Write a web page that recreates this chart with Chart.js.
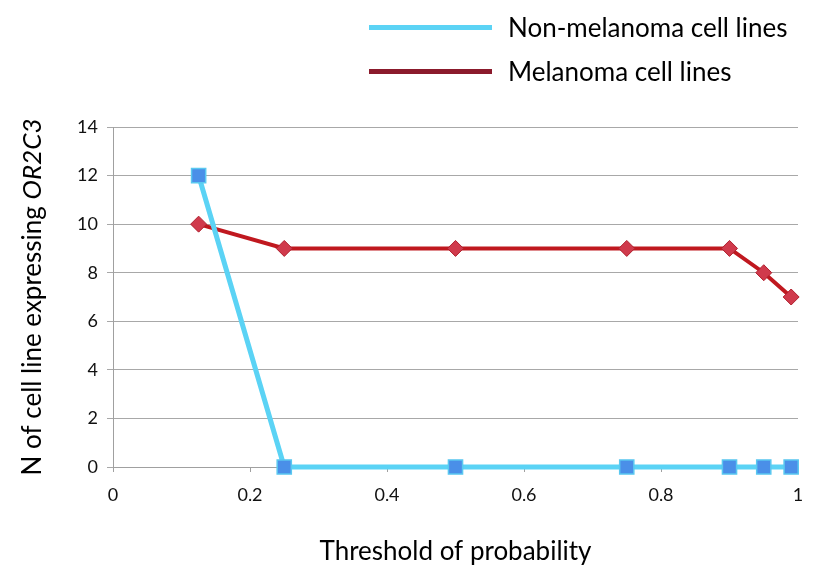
<!DOCTYPE html>
<html>
<head>
<meta charset="utf-8">
<script src="https://cdn.jsdelivr.net/npm/chart.js@4"></script>
<style>
  html, body { margin: 0; padding: 0; background: #fff; }
  #wrap { position: relative; width: 825px; height: 586px; }
  #legend { position: absolute; left: 369px; top: 5px; font-family: Lato, sans-serif; font-size: 26px; color: #000; }
  .item { display: flex; align-items: center; height: 44px; }
  .swatch { width: 123px; height: 5px; margin-right: 16px; }
</style>
</head>
<body>
<div id="wrap">
  <canvas id="chart" width="825" height="586"></canvas>
  <div id="legend"></div>
</div>
<script>
// threshold of probability (x values)
const thresholds = [0.125, 0.25, 0.5, 0.75, 0.9, 0.95, 0.99];
const nonMelanoma = [12, 0, 0, 0, 0, 0, 0];
const melanoma = [10, 9, 9, 9, 9, 8, 7];
const seriesNames = ['Non-melanoma cell lines', 'Melanoma cell lines'];
const legendColors = ['#5bd3f5', '#8b1a2c'];
const xTicks = [0, 0.2, 0.4, 0.6, 0.8, 1];

function toPoints(vals) {
    return vals.map((v, i) => ({ x: thresholds[i], y: v }));
}

// rotated y title with italic gene name
const yTitlePlugin = {
    id: 'yTitle',
    afterDraw(chart) {
        const ctx = chart.ctx;
        const area = chart.chartArea;
        const part1 = 'N of cell line expressing ';
        const part2 = 'OR2C3';
        ctx.save();
        ctx.fillStyle = '#000';
        ctx.textBaseline = 'middle';
        ctx.font = '26px Lato, sans-serif';
        const w1 = ctx.measureText(part1).width;
        ctx.font = 'italic 26px Lato, sans-serif';
        const w2 = ctx.measureText(part2).width;
        ctx.translate(33, (area.top + area.bottom) / 2);
        ctx.rotate(-Math.PI / 2);
        let x = -(w1 + w2) / 2;
        ctx.textAlign = 'left';
        ctx.font = '26px Lato, sans-serif';
        ctx.fillText(part1, x, 0);
        ctx.font = 'italic 26px Lato, sans-serif';
        ctx.fillText(part2, x + w1, 0);
        ctx.restore();
    }
};

const ctx = document.getElementById('chart').getContext('2d');
const chart = new Chart(ctx, {
    type: 'line',
    data: {
        datasets: [
            {
                label: seriesNames[0],
                data: toPoints(nonMelanoma),
                borderColor: '#5bd3f5',
                borderWidth: 5,
                pointStyle: 'rect',
                pointRadius: 10,
                pointBackgroundColor: '#4a8fe8',
                pointBorderColor: '#5ac8f0',
                pointBorderWidth: 1.5,
                tension: 0,
                clip: false
            },
            {
                label: seriesNames[1],
                data: toPoints(melanoma),
                borderColor: '#c0181f',
                borderWidth: 4,
                pointStyle: 'rectRot',
                pointRadius: 8,
                pointBackgroundColor: '#d03a4c',
                pointBorderColor: '#b0202e',
                pointBorderWidth: 1,
                tension: 0,
                clip: false
            }
        ]
    },
    options: {
        responsive: false,
        animation: false,
        layout: { padding: { top: 127, right: 27, left: 0, bottom: 0 } },
        plugins: {
            legend: { display: false },
            tooltip: { enabled: false }
        },
        scales: {
            x: {
                type: 'linear',
                min: 0,
                max: 1,
                afterFit(scale) { scale.height = 119; },
                afterBuildTicks(scale) { scale.ticks = xTicks.map(v => ({ value: v })); },
                grid: { drawOnChartArea: false, drawTicks: true, tickLength: 5, color: '#a0a0a0' },
                border: { display: true, color: '#a0a0a0' },
                ticks: {
                    color: '#111',
                    font: { family: 'Lato, sans-serif', size: 18 },
                    padding: 12,
                    maxRotation: 0,
                    callback: v => String(v)
                },
                title: {
                    display: true,
                    text: 'Threshold of probability',
                    color: '#000',
                    font: { family: 'Lato, sans-serif', size: 26 },
                    padding: { top: 0, bottom: 19 }
                }
            },
            y: {
                min: 0,
                max: 14,
                afterFit(scale) { scale.width = 113; },
                grid: { color: '#a8a8a8', tickLength: 6, lineWidth: 1 },
                border: { display: true, color: '#a0a0a0' },
                ticks: {
                    stepSize: 2,
                    color: '#111',
                    font: { family: 'Lato, sans-serif', size: 18 },
                    padding: 9
                }
            }
        }
    },
    plugins: [yTitlePlugin]
});

// html legend built from the series names
const legend = document.getElementById('legend');
legend.innerHTML = seriesNames.map((name, i) =>
    `<div class="item"><span class="swatch" style="background:${legendColors[i]}"></span>${name}</div>`
).join('');
</script>
</body>
</html>
